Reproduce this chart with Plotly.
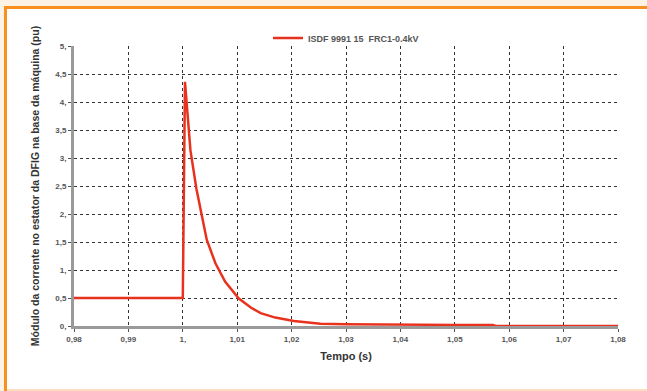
import plotly.graph_objects as go

# Data
tempo = [0.98, 1.0, 1.0004, 1.0014, 1.0025, 1.0044, 1.006, 1.0078, 1.0103, 1.0125,
         1.0143, 1.017, 1.0204, 1.0253, 1.03, 1.035, 1.04, 1.045, 1.05, 1.057, 1.0575, 1.08]
corrente = [0.5, 0.5, 4.36, 3.14, 2.45, 1.54, 1.12, 0.79, 0.49, 0.33,
            0.23, 0.15, 0.09, 0.04, 0.03, 0.025, 0.02, 0.02, 0.02, 0.02, 0.0, 0.0]
serie_nome = "ISDF 9991 15  FRC1-0.4kV"

x_ticks = [0.98, 0.99, 1.0, 1.01, 1.02, 1.03, 1.04, 1.05, 1.06, 1.07, 1.08]
x_labels = ["0,98", "0,99", "1,", "1,01", "1,02", "1,03", "1,04", "1,05", "1,06", "1,07", "1,08"]
y_ticks = [0, 0.5, 1, 1.5, 2, 2.5, 3, 3.5, 4, 4.5, 5]
y_labels = ["0,", "0,5", "1,", "1,5", "2,", "2,5", "3,", "3,5", "4,", "4,5", "5,"]

W, H = 647, 391
ML, MR, MT, MB = 74, 29, 46, 65
PW, PH = W - ML - MR, H - MT - MB


def px(x):
    return (x - ML) / PW


def py(y):
    return (H - MB - y) / PH


fig = go.Figure()
fig.add_trace(go.Scatter(x=tempo, y=corrente, mode="lines", name=serie_nome,
                         line=dict(color="#E8321E", width=2.5)))

cream = "#FDF3E4"
orange = "#F7901E"
shapes = [
    dict(type="rect", xref="paper", yref="paper", x0=px(0), x1=px(W), y0=py(0), y1=py(H),
         fillcolor=cream, line_width=0, layer="below"),
    dict(type="rect", xref="paper", yref="paper", x0=px(7), x1=px(W), y0=py(9), y1=py(389),
         fillcolor="white", line_width=0, layer="below"),
    dict(type="rect", xref="paper", yref="paper", x0=px(4), x1=px(7), y0=py(6), y1=py(391),
         fillcolor=orange, line_width=0, layer="below"),
    dict(type="rect", xref="paper", yref="paper", x0=px(4), x1=px(W), y0=py(6), y1=py(9),
         fillcolor=orange, line_width=0, layer="below"),
    dict(type="rect", xref="paper", yref="paper", x0=px(7), x1=px(W), y0=py(389), y1=py(391),
         fillcolor="#FCDDBF", line_width=0, layer="below"),
]

bold_font = dict(family="Liberation Sans, Arial, sans-serif", weight="bold")

fig.update_layout(
    width=W, height=H,
    margin=dict(l=ML, r=MR, t=MT, b=MB),
    paper_bgcolor=cream, plot_bgcolor="white",
    font=dict(family="Liberation Sans, Arial, sans-serif", color="#444"),
    showlegend=True,
    legend=dict(orientation="h", x=0.5, xanchor="center", y=py(38), yanchor="middle",
                font=dict(size=9, color="#555", **bold_font),
                bgcolor="rgba(0,0,0,0)", itemwidth=30),
    shapes=shapes,
)

fig.update_xaxes(
    range=[0.98, 1.08], tickvals=x_ticks, ticktext=x_labels,
    showgrid=True, gridcolor="#333", griddash="dot", gridwidth=1,
    showline=True, linecolor="#9a9a9a", linewidth=3,
    ticks="outside", ticklen=3, tickcolor="#555",
    tickfont=dict(size=8, color="#555", **bold_font),
    title=dict(text="Tempo (s)", font=dict(size=11, color="#333", **bold_font), standoff=10),
    zeroline=False,
)
fig.update_yaxes(
    range=[0, 5], tickvals=y_ticks, ticktext=y_labels,
    showgrid=True, gridcolor="#333", griddash="dot", gridwidth=1,
    showline=True, linecolor="#9a9a9a", linewidth=3,
    ticks="outside", ticklen=3, tickcolor="#555",
    tickfont=dict(size=8, color="#555", **bold_font),
    title=dict(text="Módulo da corrente no estator da DFIG na base da máquina (pu)",
               font=dict(size=10.5, color="#333", **bold_font), standoff=14),
    zeroline=False,
)

fig.write_html("out.html", config={"displayModeBar": False},
               post_script="document.body.style.margin='0';document.body.style.background='#FDF3E4';")
